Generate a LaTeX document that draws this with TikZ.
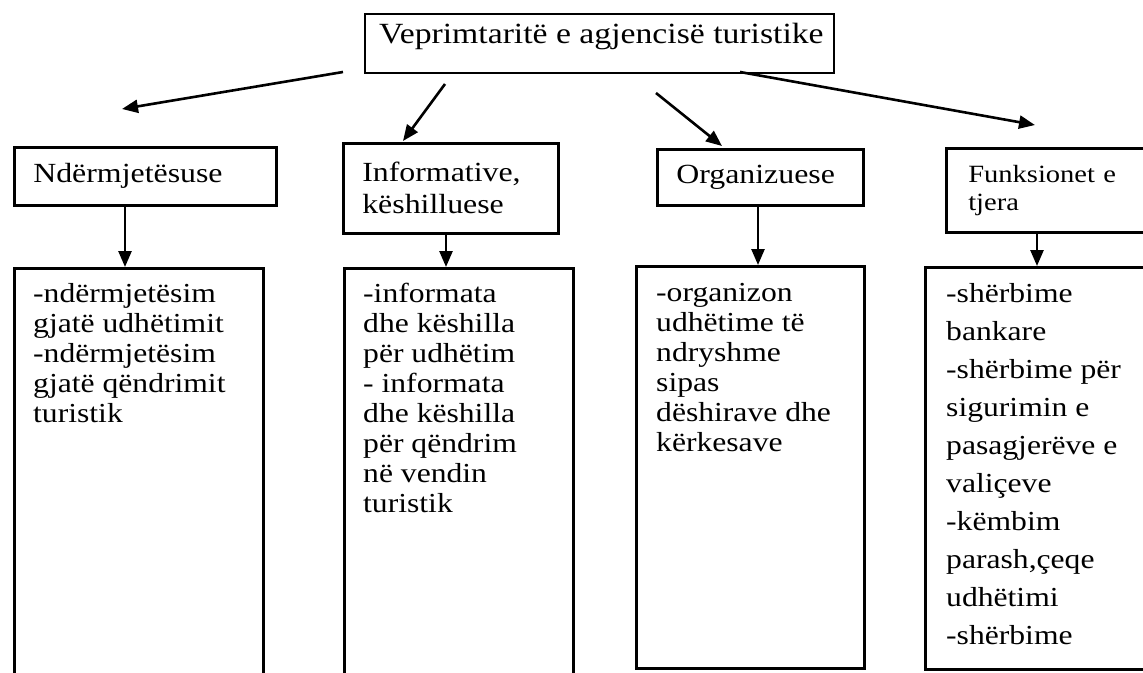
\documentclass[tikz,border=0pt]{standalone}
\usepackage{fontspec}
\setmainfont[FakeStretch=1.15]{Liberation Serif}
\usetikzlibrary{arrows.meta}
\begin{document}
\begin{tikzpicture}[x=1pt,y=-1pt,
  box/.style={draw, line width=2.6pt, inner sep=0pt, anchor=north west},
  hdr/.style={box, inner xsep=19pt, align=left},
  txt/.style={anchor=north west, inner sep=0pt, align=left,
    font=\fontsize{27.5}{30}\selectfont},
  arr/.style={line width=2.6pt, -{Triangle[length=16pt,width=13pt]}}]
\useasboundingbox (0,0) rectangle (1143,672);

% top box with its title
\node[box, line width=2pt, minimum width=469pt, minimum height=59pt] (top) at (364,13) {};
\node[anchor=base west, inner sep=0pt, font=\fontsize{29.3}{34}\selectfont] (title) at (379,43)
  {Veprimtaritë e agjencisë turistike};

% second row: the four kinds of activity
\node[hdr, minimum width=262pt, minimum height=58pt, text width=224pt,
  font=\fontsize{27.7}{32}\selectfont] (hA) at (13,146) {Ndërmjetësuse};
\node[hdr, minimum width=215pt, minimum height=90pt, text width=177pt,
  font=\fontsize{27.7}{32}\selectfont] (hB) at (342,142) {Informative,\\këshilluese};
\node[hdr, minimum width=206pt, minimum height=56pt, text width=168pt,
  font=\fontsize{27.7}{32}\selectfont] (hC) at (656,148) {Organizuese};
\node[hdr, minimum width=190pt, minimum height=84pt, text width=162pt, inner xsep=22pt,
  font=\fontsize{24.8}{28}\selectfont] (hD) at (945,147) {Funksionet e\\tjera};

% third row: what each kind covers
\node[box, minimum width=249pt, minimum height=440pt] (bA) at (13,267) {};
\node[box, minimum width=229pt, minimum height=440pt] (bB) at (343,267) {};
\node[box, minimum width=228pt, minimum height=402pt] (bC) at (635,265) {};
\node[box, minimum width=260pt, minimum height=402pt] (bD) at (924,266) {};

\node[txt] (tA) at (33,283) {-ndërmjetësim\\gjatë udhëtimit\\-ndërmjetësim\\gjatë qëndrimit\\turistik};
\node[txt] (tB) at (363,283) {-informata\\dhe këshilla\\për udhëtim\\- informata\\dhe këshilla\\për qëndrim\\në vendin\\turistik};
\node[txt] (tC) at (656,283) {-organizon\\udhëtime të\\ndryshme\\sipas\\dëshirave dhe\\kërkesave};
\node[txt, font=\fontsize{27.5}{38}\selectfont] (tD) at (946,283)
  {-shërbime\\bankare\\-shërbime për\\sigurimin e\\pasagjerëve e\\valiçeve\\-këmbim\\parash,çeqe\\udhëtimi\\-shërbime};

% connectors from the title box
\coordinate (t1) at (343,72);  \coordinate (h1) at (122,109);
\coordinate (t2) at (445,84);  \coordinate (h2) at (403,141);
\coordinate (t3) at (656,93);  \coordinate (h3) at (722,146);
\coordinate (t4) at (740,72);  \coordinate (h4) at (1035,125);
\draw[arr] (t1) -- (h1);
\draw[arr] (t2) -- (h2);
\draw[arr] (t3) -- (h3);
\draw[arr] (t4) -- (h4);

% connectors from each heading down to its list
\draw[arr] ([xshift=112pt]hA.south west) -- ([xshift=112pt]hA.south west |- bA.north);
\draw[arr] ([xshift=104pt]hB.south west) -- ([xshift=104pt]hB.south west |- bB.north);
\draw[arr] ([xshift=102pt]hC.south west) -- ([xshift=102pt]hC.south west |- bC.north);
\draw[arr] ([xshift=92pt]hD.south west) -- ([xshift=92pt]hD.south west |- bD.north);
\end{tikzpicture}
\end{document}
